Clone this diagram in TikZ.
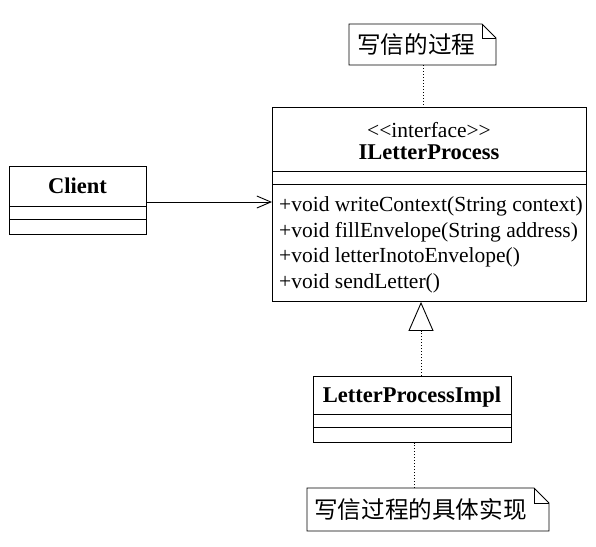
\documentclass[tikz,border=0pt]{standalone}
\usepackage{fontspec}
\setmainfont{Liberation Serif}
\newfontfamily\cjk{Noto Sans CJK SC}
\usetikzlibrary{arrows.meta}
\begin{document}
\begin{tikzpicture}[x=1pt,y=-1pt,
  umlbox/.style={draw, line width=0.9pt, inner sep=0pt, anchor=north west},
  cmp/.style={line width=0.9pt},
  txt/.style={inner sep=0pt, font=\fontsize{21.5}{24}\selectfont},
  btxt/.style={inner sep=0pt, font=\fontsize{22.5}{26}\selectfont\bfseries},
  ctxt/.style={inner sep=0pt, font=\fontsize{23.6}{27}\selectfont\cjk},
  notebox/.style={inner sep=0pt, anchor=north west},
  dotline/.style={line width=0.8pt, dash pattern=on 1pt off 2pt},
  assoc/.style={line width=0.9pt, -{Straight Barb[length=14pt,width=12pt,line width=0.9pt]}},
  realize/.style={line width=0.9pt, dash pattern=on 1pt off 2pt, -{Triangle[open,length=29pt,width=25pt,line width=0.9pt,fill=white]}}
]
\useasboundingbox (0,0) rectangle (596,546);
\fill[white] (0,0) rectangle (596,546);

% Client
\node[umlbox, minimum width=137pt, minimum height=68pt] (client) at (9,166) {};
\draw[cmp] (9,206) -- (146,206);
\draw[cmp] (9,219) -- (146,219);
\node[btxt, anchor=base] (clientname) at (77.5,193) {Client};

% ILetterProcess
\node[umlbox, minimum width=314pt, minimum height=194pt] (ilp) at (272,107) {};
\draw[cmp] (272,171) -- (586,171);
\draw[cmp] (272,184) -- (586,184);
\node[txt, anchor=base] (stereo) at (429,137) {<{}<interface>{}>};
\node[btxt, anchor=base] (ilpname) at (429,159) {ILetterProcess};
\node[txt, anchor=base west] (m1) at (279,211) {+void writeContext(String context)};
\node[txt, anchor=base west] (m2) at (279,237) {+void fillEnvelope(String address)};
\node[txt, anchor=base west] (m3) at (279,262.5) {+void letterInotoEnvelope()};
\node[txt, anchor=base west] (m4) at (279,288) {+void sendLetter()};

% LetterProcessImpl
\node[umlbox, minimum width=198pt, minimum height=66pt] (impl) at (313,376) {};
\draw[cmp] (313,414) -- (511,414);
\draw[cmp] (313,427) -- (511,427);
\node[btxt, anchor=base] (implname) at (412,402) {LetterProcessImpl};

% Note 1
\node[notebox, minimum width=147pt, minimum height=41pt] (note1) at (349,24) {};
\draw[line width=0.9pt] (349,24) -- (482,24) -- (496,38) -- (496,65) -- (349,65) -- cycle;
\draw[line width=0.9pt] (482,24) -- (482,38) -- (496,38);
\node[ctxt, anchor=west] (note1txt) at (357,44.5) {写信的过程};

% Note 2
\node[notebox, minimum width=242pt, minimum height=43pt] (note2) at (307,488) {};
\draw[line width=0.9pt] (307,488) -- (534,488) -- (549,503) -- (549,531) -- (307,531) -- cycle;
\draw[line width=0.9pt] (534,488) -- (534,503) -- (549,503);
\node[ctxt, anchor=west] (note2txt) at (314,509.5) {写信过程的具体实现};

% connectors
\draw[assoc] (client.east |- 0,202) -- (ilp.west |- 0,202);
\draw[realize] (impl.north -| 421,0) -- (ilp.south -| 421,0);
\draw[dotline] (note1.south -| 423,0) -- (ilp.north -| 423,0);
\draw[dotline] (note2.north -| 414,0) -- (impl.south -| 414,0);
\end{tikzpicture}
\end{document}
